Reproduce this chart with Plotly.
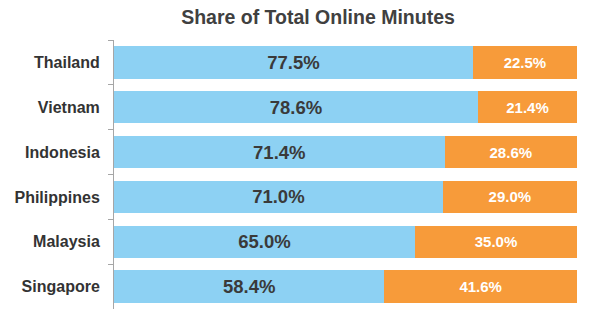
import plotly.graph_objects as go

countries = ["Thailand", "Vietnam", "Indonesia", "Philippines", "Malaysia", "Singapore"]
share_a = [77.5, 78.6, 71.4, 71.0, 65.0, 58.4]
share_b = [22.5, 21.4, 28.6, 29.0, 35.0, 41.6]

fig = go.Figure()
fig.add_trace(go.Bar(
    y=countries, x=share_a, orientation="h",
    marker=dict(color="#8DD1F3", line=dict(width=0)),
    text=[f"{v:.1f}%" for v in share_a], textposition="inside",
    insidetextanchor="middle",
    textfont=dict(family="Liberation Sans, Arial", size=18.5, color="#3a3a3a", weight="bold"),
    hoverinfo="skip",
))
fig.add_trace(go.Bar(
    y=countries, x=share_b, orientation="h",
    marker=dict(color="#F79B3A", line=dict(width=0)),
    text=[f"{v:.1f}%" for v in share_b], textposition="inside",
    insidetextanchor="middle",
    textfont=dict(family="Liberation Sans, Arial", size=15, color="white", weight="bold"),
    hoverinfo="skip",
))

fig.update_layout(
    barmode="stack",
    bargap=0.28,
    width=590, height=311,
    margin=dict(l=114, r=13, t=40, b=2),
    paper_bgcolor="white", plot_bgcolor="white",
    showlegend=False,
    uniformtext=dict(mode=False),
    title=dict(text="<b>Share of Total Online Minutes</b>", x=0.539, xanchor="center",
               y=0.945, yanchor="middle",
               font=dict(family="Liberation Sans, Arial", size=19.5, color="#404040")),
    xaxis=dict(range=[0, 100], visible=False),
    yaxis=dict(
        categoryorder="array", categoryarray=countries, autorange="reversed",
        showline=True, linecolor="#a6a6a6", linewidth=1,
        ticks="outside", tickson="boundaries", ticklen=5, tickcolor="#a6a6a6",
        ticklabelstandoff=10,
        tickfont=dict(family="Liberation Sans, Arial", size=16, color="#333333", weight="bold"),
        showgrid=False, zeroline=False,
    ),
)

fig.write_html("out.html")
